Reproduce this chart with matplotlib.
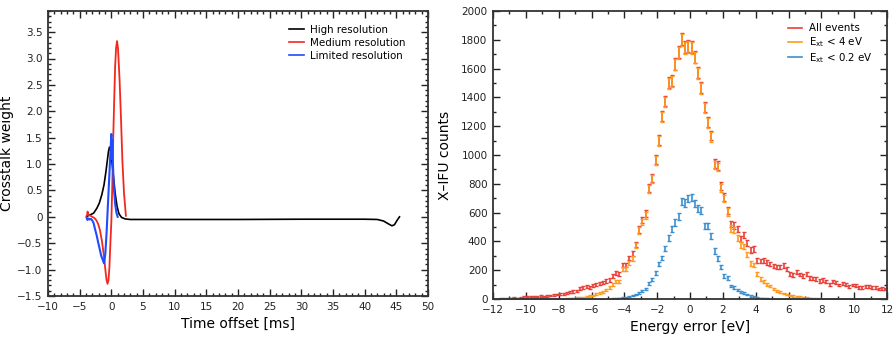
"""
Crosstalk weights and energy-error histogram
"""
import numpy as np
import matplotlib
matplotlib.use('Agg')
import matplotlib.pyplot as plt
from matplotlib.lines import Line2D
from matplotlib.ticker import MultipleLocator, FuncFormatter

# ---- left panel: crosstalk weight vs time offset [ms] ----
high_t = [-3.9, -3.7, -3.3, -2.8, -2.3, -1.9, -1.5, -1.15, -0.85, -0.6, -0.45,
          -0.3, -0.15, 0.0, 0.3, 0.6, 0.9, 1.2, 1.6, 2.2, 3.0, 10.0, 20.0,
          30.0, 40.0, 42.0, 43.0, 43.7, 44.3, 44.7, 45.1, 45.5]
high_w = [0.0, 0.02, 0.04, 0.07, 0.16, 0.26, 0.42, 0.61, 0.86, 1.1, 1.24,
          1.32, 1.3, 1.15, 0.8, 0.45, 0.2, 0.06, -0.01, -0.04, -0.05, -0.05, -0.05,
          -0.045, -0.045, -0.05, -0.08, -0.13, -0.17, -0.15, -0.07, 0.0]

medium_t = [-3.9, -3.8, -3.75, -3.65, -3.5, -3.3, -3.0, -2.7, -2.4, -2.1, -1.8,
            -1.5, -1.3, -1.1, -0.9, -0.75, -0.6, -0.45, -0.3, -0.15, 0.0, 0.15,
            0.3, 0.45, 0.6, 0.75, 0.9, 1.05, 1.3, 1.5, 1.75, 2.0, 2.3]
medium_w = [0.02, 0.05, 0.1, 0.04, 0.03, 0.02, 0.0, -0.02, -0.06, -0.13, -0.25,
            -0.45, -0.62, -0.82, -1.05, -1.2, -1.27, -1.2, -0.95, -0.5, -0.1, 0.6,
            1.5, 2.2, 2.85, 3.2, 3.33, 3.2, 2.6, 1.95, 1.05, 0.45, 0.02]

limited_t = [-3.9, -3.75, -3.6, -3.4, -3.2, -3.0, -2.8, -2.6, -2.3, -2.05, -1.8,
             -1.6, -1.4, -1.25, -1.15, -0.95, -0.75, -0.55, -0.35, -0.15, 0.0,
             0.08, 0.15, 0.25, 0.4, 0.6, 0.8, 1.0]
limited_w = [-0.02, -0.06, -0.03, -0.05, -0.04, -0.07, -0.12, -0.22, -0.36, -0.5, -0.63,
             -0.74, -0.8, -0.85, -0.88, -0.7, -0.3, 0.2, 0.7, 1.2, 1.57,
             1.1, 1.45, 1.0, 0.55, 0.25, 0.08, 0.0]

# ---- right panel: histogram of energy error, 0.2 eV bins from -12 to 12 ----
bin_edges = np.linspace(-12, 12, 121)

counts_all = [
    2, 2, 3, 4, 5, 6, 8, 7, 10, 14, 16, 15, 18, 17, 20, 19, 22, 25, 28, 30,
    33, 37, 42, 48, 52, 58, 72, 78, 88, 80, 96, 102, 108, 112, 125, 132, 160, 182, 172, 236,
    235, 285, 317, 378, 482, 548, 592, 772, 842, 968, 1105, 1272, 1374, 1503, 1515, 1634, 1714, 1806, 1750, 1756,
    1750, 1683, 1573, 1470, 1333, 1232, 1136, 940, 928, 782, 708, 612, 521, 509, 488, 419, 444, 387, 340, 347,
    268, 263, 268, 253, 243, 230, 224, 223, 232, 211, 174, 167, 188, 170, 160, 174, 146, 141, 139, 125,
    132, 120, 102, 120, 116, 97, 109, 102, 86, 97, 93, 79, 81, 86, 86, 79, 79, 69, 74, 69,
]
counts_ext4 = [
    0, 0, 0, 0, 0, 0, 0, 0, 0, 0, 0, 0, 0, 0, 0, 0, 0, 0, 0, 0,
    1, 2, 3, 4, 6, 8, 10, 13, 17, 22, 26, 33, 40, 48, 62, 78, 100, 120, 122, 206,
    206, 250, 280, 370, 475, 535, 581, 764, 833, 960, 1097, 1266, 1368, 1497, 1509, 1628, 1709, 1801, 1744, 1750,
    1744, 1677, 1567, 1463, 1326, 1224, 1127, 931, 917, 768, 699, 604, 490, 481, 426, 375, 363, 310, 245, 236,
    172, 140, 120, 100, 90, 68, 55, 48, 38, 32, 25, 21, 17, 14, 11, 9, 7, 5, 4, 3,
    2, 1, 0, 0, 0, 0, 0, 0, 0, 0, 0, 0, 0, 0, 0, 0, 0, 0, 0, 0,
]
counts_ext02 = [
    0, 0, 0, 0, 0, 0, 0, 0, 0, 0, 0, 0, 0, 0, 0, 0, 0, 0, 0, 0,
    0, 0, 0, 0, 0, 0, 0, 0, 0, 0, 0, 0, 0, 1, 1, 2, 3, 4, 6, 9,
    12, 18, 24, 30, 42, 58, 68, 105, 135, 178, 243, 285, 350, 425, 487, 530, 570, 677, 668, 697,
    706, 665, 630, 614, 507, 507, 437, 333, 282, 220, 162, 146, 90, 81, 60, 50, 40, 30, 21, 15,
    10, 7, 5, 3, 2, 1, 0, 0, 0, 0, 0, 0, 0, 0, 0, 0, 0, 0, 0, 0,
    0, 0, 0, 0, 0, 0, 0, 0, 0, 0, 0, 0, 0, 0, 0, 0, 0, 0, 0, 0,
]

plt.rcParams['font.family'] = ['DejaVu Sans']
plt.rcParams['mathtext.fontset'] = 'dejavusans'


def style_axes(ax):
    """刻度朝内，四边都有"""
    ax.tick_params(which='both', direction='in', top=True, right=True,
                   labelsize=7.5, width=1.0, colors='#222222', pad=4)
    ax.tick_params(which='major', length=5)
    ax.tick_params(which='minor', length=2.5)
    for sp in ax.spines.values():
        sp.set_linewidth(1.3)
        sp.set_color('#333333')


fig = plt.figure(figsize=(8.96, 3.37), dpi=100)

# 左图
ax1 = fig.add_axes([48 / 896, 1 - 296 / 337, 380 / 896, 285 / 337])
ax1.plot(high_t, high_w, color='black', lw=1.2)
ax1.plot(medium_t, medium_w, color='#f2281e', lw=1.3)
ax1.plot(limited_t, limited_w, color='#1f4cff', lw=1.5)
ax1.set_xlim(-10, 50)
ax1.set_ylim(-1.5, 3.9)
ax1.xaxis.set_major_locator(MultipleLocator(5))
ax1.xaxis.set_minor_locator(MultipleLocator(1))
ax1.yaxis.set_major_locator(MultipleLocator(0.5))
ax1.yaxis.set_minor_locator(MultipleLocator(0.1))
ax1.yaxis.set_major_formatter(FuncFormatter(
    lambda v, p: '0' if abs(v) < 1e-9 else f'{v:.1f}'.replace('-', '\u2212')))
ax1.set_xlabel('Time offset [ms]', fontsize=10, labelpad=4)
ax1.set_ylabel('Crosstalk weight', fontsize=10)
ax1.yaxis.set_label_coords(-0.089, 0.5)
style_axes(ax1)
handles1 = [Line2D([], [], color='black', lw=1.2),
            Line2D([], [], color='#f2281e', lw=1.2),
            Line2D([], [], color='#1f4cff', lw=1.2)]
ax1.legend(handles1, ['High resolution', 'Medium resolution', 'Limited resolution'],
           loc='upper right', bbox_to_anchor=(0.965, 0.985), frameon=False,
           fontsize=7.4, handlelength=1.4, handletextpad=0.6, labelspacing=0.3)

# 右图
ax2 = fig.add_axes([493 / 896, 1 - 299 / 337, 394 / 896, 288 / 337])
centers = 0.5 * (bin_edges[:-1] + bin_edges[1:])
series = [(counts_all, '#e8413a'), (counts_ext4, '#ff9a1c'), (counts_ext02, '#3c8fcf')]
for counts, col in series:
    c = np.array(counts, dtype=float)
    ax2.errorbar(centers, c, yerr=np.sqrt(c), fmt='none', ecolor=col,
                 elinewidth=1.2, capsize=1.6, capthick=1.0)
ax2.set_xlim(-12, 12)
ax2.set_ylim(0, 2000)
ax2.xaxis.set_major_locator(MultipleLocator(2))
ax2.xaxis.set_minor_locator(MultipleLocator(1))
ax2.yaxis.set_major_locator(MultipleLocator(200))
ax2.yaxis.set_minor_locator(MultipleLocator(100))
ax2.set_xlabel('Energy error [eV]', fontsize=10, labelpad=4)
ax2.set_ylabel('X\u2013IFU counts', fontsize=10)
ax2.yaxis.set_label_coords(-0.105, 0.5)
style_axes(ax2)
handles2 = [Line2D([], [], color=col, lw=1.2) for _, col in series]
ax2.legend(handles2, ['All events', r'E$_{\rm xt}$ < 4 eV', r'E$_{\rm xt}$ < 0.2 eV'],
           loc='upper right', bbox_to_anchor=(0.985, 0.99), frameon=False,
           fontsize=7.4, handlelength=1.4, handletextpad=0.6, labelspacing=0.2)

fig.savefig('out.png', dpi=100)
